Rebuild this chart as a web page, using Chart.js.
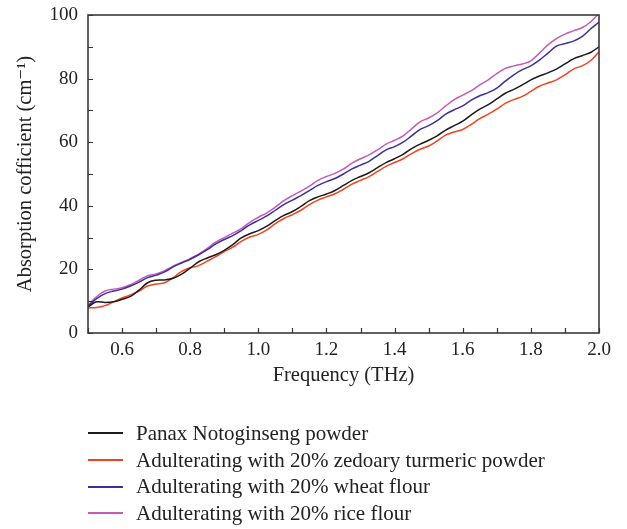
<!DOCTYPE html>
<html>
<head>
<meta charset="utf-8">
<script src="https://cdn.jsdelivr.net/npm/chart.js@4.4.1/dist/chart.umd.min.js"></script>
<style>
  html, body { margin: 0; padding: 0; background: #fff; }
  #wrap { position: relative; width: 627px; height: 529px; }
  #chart { position: absolute; left: 0; top: 0; }
  #legend { position: absolute; left: 88px; top: 420px; font-family: "Liberation Serif", serif; font-size: 21px; color: #222; }
  .legend-item { display: flex; align-items: center; height: 26.7px; white-space: nowrap; }
  .swatch { display: inline-block; width: 35px; height: 2px; margin-right: 13px; }
</style>
</head>
<body>
<div id="wrap">
  <canvas id="chart" width="627" height="529"></canvas>
  <div id="legend"></div>
</div>
<script>
const freq = [
  0.5, 0.525, 0.55, 0.575, 0.6, 0.625, 0.65, 0.675, 0.7, 0.725, 0.75, 0.775,
  0.8, 0.825, 0.85, 0.875, 0.9, 0.925, 0.95, 0.975, 1.0, 1.025, 1.05, 1.075,
  1.1, 1.125, 1.15, 1.175, 1.2, 1.225, 1.25, 1.275, 1.3, 1.325, 1.35, 1.375,
  1.4, 1.425, 1.45, 1.475, 1.5, 1.525, 1.55, 1.575, 1.6, 1.625, 1.65, 1.675,
  1.7, 1.725, 1.75, 1.775, 1.8, 1.825, 1.85, 1.875, 1.9, 1.925, 1.95, 1.975, 2.0
];

const panax = [
  8.2, 9.8, 9.6, 9.8, 10.6, 11.5, 13.5, 15.8, 16.6, 16.7, 17.2, 18.5,
  20.4, 22.4, 23.6, 24.6, 26.0, 27.8, 29.9, 31.2, 32.2, 33.6, 35.4, 37.0,
  38.2, 39.8, 41.6, 42.8, 43.7, 44.8, 46.4, 48.0, 49.2, 50.4, 52.0, 53.6,
  54.8, 56.2, 58.0, 59.4, 60.6, 62.0, 63.8, 65.2, 66.6, 68.6, 70.4, 71.8,
  73.6, 75.4, 76.6, 78.0, 79.6, 80.8, 81.8, 83.0, 84.6, 86.2, 87.2, 88.2, 90.0
];

const zedoary = [
  7.9, 8.0, 8.6, 9.8, 11.0, 12.0, 13.2, 14.8, 15.4, 15.8, 17.4, 19.4,
  20.5, 21.2, 22.6, 24.0, 25.6, 27.0, 28.8, 30.2, 31.0, 32.4, 34.4, 36.0,
  37.2, 38.6, 40.4, 41.8, 42.8, 43.8, 45.2, 46.8, 48.0, 49.2, 50.8, 52.4,
  53.6, 54.8, 56.4, 57.8, 58.8, 60.4, 62.2, 63.2, 64.0, 65.6, 67.4, 68.8,
  70.4, 72.2, 73.4, 74.4, 76.0, 77.6, 78.6, 79.6, 81.2, 83.0, 84.0, 85.6, 88.4
];

const wheat = [
  8.5, 10.8, 12.4, 13.2, 13.8, 14.8, 16.0, 17.4, 18.2, 19.2, 20.8, 22.0,
  23.2, 24.6, 26.2, 28.0, 29.4, 30.6, 32.2, 34.0, 35.4, 36.8, 38.6, 40.4,
  41.8, 43.2, 44.8, 46.4, 47.6, 48.6, 50.0, 51.6, 52.8, 54.0, 55.8, 57.6,
  58.6, 60.0, 62.0, 64.0, 65.2, 66.8, 68.8, 70.2, 71.4, 73.2, 74.6, 75.6,
  77.0, 79.2, 81.2, 82.8, 84.0, 85.8, 88.0, 90.2, 91.0, 91.8, 93.2, 95.6, 97.8
];

const rice = [
  8.8, 11.4, 13.2, 13.8, 14.2, 15.2, 16.6, 18.0, 18.6, 19.6, 21.0, 22.2,
  23.4, 24.8, 26.6, 28.6, 30.0, 31.4, 32.8, 34.8, 36.4, 37.8, 39.6, 41.6,
  43.2, 44.6, 46.2, 48.0, 49.2, 50.2, 51.6, 53.4, 54.8, 56.0, 57.6, 59.4,
  60.6, 62.0, 64.2, 66.4, 67.6, 69.2, 71.4, 73.4, 74.8, 76.2, 78.0, 79.6,
  81.6, 83.2, 84.0, 84.6, 85.6, 88.0, 90.6, 92.6, 94.0, 95.0, 96.0, 97.8, 100.6
];

const seriesNames = [
  'Panax Notoginseng powder',
  'Adulterating with 20% zedoary turmeric powder',
  'Adulterating with 20% wheat flour',
  'Adulterating with 20% rice flour'
];
const seriesValues = [panax, zedoary, wheat, rice];
const colors = ['#1b1b1b', '#f2431f', '#3c2f9e', '#c65ab8'];

const serif = '"Liberation Serif", "DejaVu Serif", serif';

const datasets = seriesValues.map((values, i) => ({
  label: seriesNames[i],
  data: values.map((v, k) => ({ x: freq[k], y: v })),
  borderColor: colors[i],
  backgroundColor: colors[i],
  borderWidth: 1.5,
  pointRadius: 0,
  tension: 0.4,
  fill: false
}));

// inward ticks and the closed frame around the plot
const frameAndTicks = {
  id: 'frameAndTicks',
  afterDraw(chart) {
    const { ctx, chartArea: a, scales: { x, y } } = chart;
    ctx.save();
    ctx.strokeStyle = '#333';
    ctx.lineWidth = 1.2;
    ctx.beginPath();
    x.ticks.forEach((t) => {
      const px = Math.round(x.getPixelForValue(t.value)) + 0.5;
      ctx.moveTo(px, a.bottom);
      ctx.lineTo(px, a.bottom - 5);
    });
    y.ticks.forEach((t) => {
      const py = Math.round(y.getPixelForValue(t.value)) + 0.5;
      ctx.moveTo(a.left, py);
      ctx.lineTo(a.left + 5, py);
    });
    ctx.stroke();
    ctx.lineWidth = 1.6;
    ctx.strokeStyle = '#3a3a3a';
    ctx.strokeRect(a.left, a.top, a.right - a.left, a.bottom - a.top);
    ctx.restore();
  }
};

new Chart(document.getElementById('chart'), {
  type: 'line',
  data: { datasets },
  options: {
    responsive: false,
    animation: false,
    layout: { padding: { left: 0, top: 15, right: 28, bottom: 136 } },
    plugins: { legend: { display: false }, tooltip: { enabled: false } },
    scales: {
      x: {
        type: 'linear',
        min: 0.5,
        max: 2.0,
        grid: { display: false },
        border: { display: false },
        ticks: {
          stepSize: 0.1,
          autoSkip: false,
          maxRotation: 0,
          padding: -2,
          color: '#222',
          font: { family: serif, size: 19 },
          callback: (v) => (Math.round(v * 10) % 2 === 0 ? v.toFixed(1) : '')
        },
        title: {
          display: true,
          text: 'Frequency (THz)',
          color: '#222',
          font: { family: serif, size: 20.5 },
          padding: { top: 0, bottom: 5 }
        },
        afterFit: (scale) => { scale.height = 60; }
      },
      y: {
        min: 0,
        max: 100,
        grid: { display: false },
        border: { display: false },
        ticks: {
          stepSize: 10,
          autoSkip: false,
          padding: 2,
          color: '#222',
          font: { family: serif, size: 19 },
          callback: (v) => (v % 20 === 0 ? String(v) : '')
        },
        title: {
          display: true,
          text: 'Absorption cofficient (cm\u207B\u00B9)',
          color: '#222',
          font: { family: serif, size: 20.5 },
          padding: { top: 13, bottom: 0 }
        },
        afterFit: (scale) => { scale.width = 88; }
      }
    }
  },
  plugins: [frameAndTicks]
});

document.getElementById('legend').innerHTML = seriesNames
  .map((name, i) => `
    <div class="legend-item">
      <span class="swatch" style="background:${colors[i]}"></span>${name}
    </div>`)
  .join('');
</script>
</body>
</html>
